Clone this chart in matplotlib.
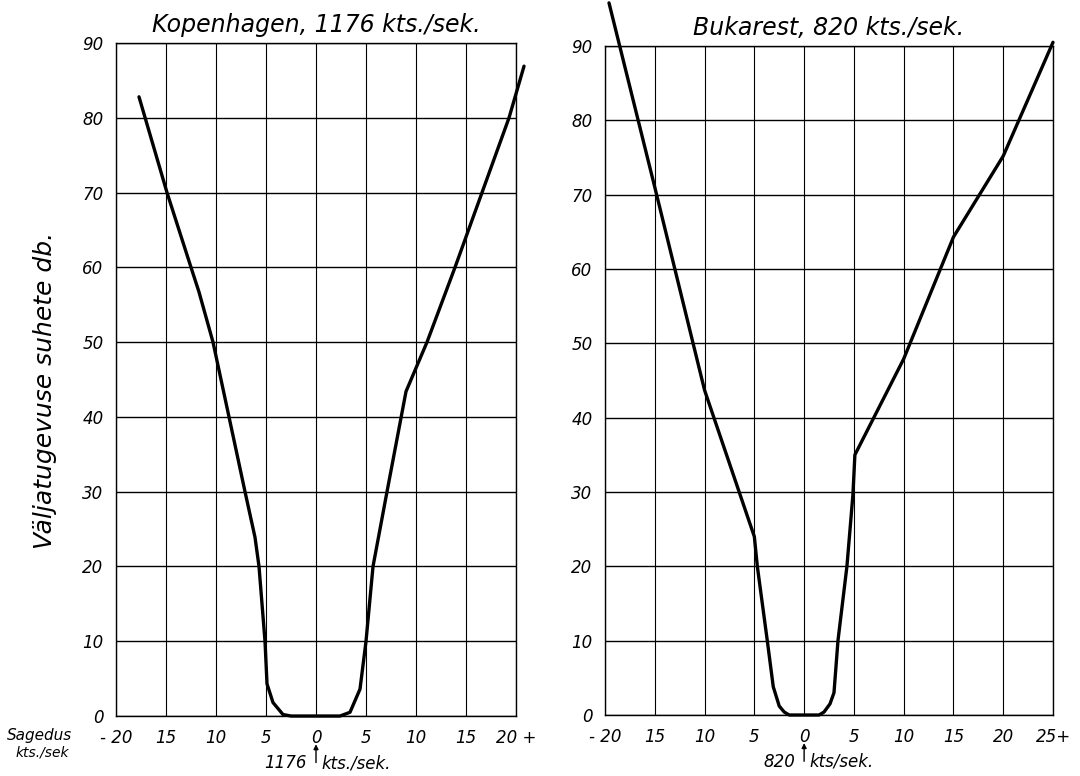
import matplotlib.pyplot as plt

# Kopenhagen, 1176 kts./sek.
kop_x = [-17.7, -14.9, -12.5, -11.7, -10.3, -8.7, -7.1, -6.1, -5.7, -5.1, -4.9, -4.3,
         -3.3, -2.5, 0, 2.4, 3.4, 4.4, 5.0, 5.7, 7.1, 9.0, 11.1, 13.9, 16.6, 19.3, 20.8]
kop_y = [82.8, 70, 60, 56.7, 50, 40, 30, 23.9, 20, 10, 4.3, 1.8,
         0.2, 0, 0, 0, 0.5, 3.6, 10, 20, 30, 43.4, 50, 60, 70, 80, 86.9]

# Bukarest, 820 kts./sek.
buk_x = [-19.6, -15, -10, -5, -4.7, -3.7, -3.1, -2.5, -2.0, -1.5, 0, 1.5, 2.0, 2.6,
         3.0, 3.4, 4.3, 4.9, 5.1, 10, 15, 20, 25]
buk_y = [95.8, 71, 43.7, 24, 20, 10, 3.8, 1.2, 0.4, 0, 0, 0, 0.4, 1.5,
         3, 10, 20, 29.6, 35, 47.9, 64.3, 75.2, 90.5]

kop_ticks = [-20, -15, -10, -5, 0, 5, 10, 15, 20]
kop_labels = ['- 20', '15', '10', '5', '0', '5', '10', '15', '20 +']
buk_ticks = [-20, -15, -10, -5, 0, 5, 10, 15, 20, 25]
buk_labels = ['- 20', '15', '10', '5', '0', '5', '10', '15', '20', '25+']
y_ticks = [0, 10, 20, 30, 40, 50, 60, 70, 80, 90]

FONT = dict(family='DejaVu Sans', style='italic')


def draw_panel(ax, xs, ys, ticks, labels, xmin, xmax, title, freq):
    ax.set_xlim(xmin, xmax)
    ax.set_ylim(0, 90)
    for t in ticks:
        ax.axvline(t, color='black', lw=0.8, zorder=1)
    for t in y_ticks:
        ax.axhline(t, color='black', lw=1.0, zorder=1)
    ax.plot(xs, ys, color='black', lw=2.4, solid_capstyle='round',
            solid_joinstyle='round', clip_on=False, zorder=3)
    for s in ax.spines.values():
        s.set_linewidth(1.0)
    ax.set_xticks(ticks)
    ax.set_xticklabels(labels, fontsize=12, **FONT)
    ax.set_yticks(y_ticks)
    ax.set_yticklabels([str(v) for v in y_ticks], fontsize=12, **FONT)
    ax.tick_params(length=0, pad=9)
    ax.set_title(title, fontsize=17, pad=8, **FONT)
    # arrow under the zero point, carrier frequency on either side of it
    ax.annotate('', xy=(0, -3.4), xytext=(0, -6.6), xycoords='data',
                arrowprops=dict(arrowstyle='-|>', color='black', lw=1.0,
                                mutation_scale=7),
                annotation_clip=False)
    ax.text(-0.9, -6.3, freq, ha='right', va='center', fontsize=12,
            clip_on=False, **FONT)
    ax.text(0.5, -6.3, 'kts./sek.' if freq == '1176' else 'kts/sek.',
            ha='left', va='center', fontsize=12, clip_on=False, **FONT)


fig = plt.figure(figsize=(10.8, 7.76), dpi=100)
ax1 = fig.add_axes([0.1074, 0.0773, 0.3704, 0.8673])
ax2 = fig.add_axes([0.5602, 0.0786, 0.4148, 0.8621])

draw_panel(ax1, kop_x, kop_y, kop_ticks, kop_labels, -20, 20,
           'Kopenhagen, 1176 kts./sek.', '1176')
draw_panel(ax2, buk_x, buk_y, buk_ticks, buk_labels, -20, 25,
           'Bukarest, 820 kts./sek.', '820')

fig.text(0.042, 0.497, 'Väljatugevuse suhete db.', rotation=90, ha='center',
         va='center', fontsize=18, **FONT)
fig.text(0.006, 0.052, 'Sagedus', ha='left', va='center', fontsize=11, **FONT)
fig.text(0.014, 0.030, 'kts./sek', ha='left', va='center', fontsize=10, **FONT)

fig.savefig('out.png', dpi=100)
